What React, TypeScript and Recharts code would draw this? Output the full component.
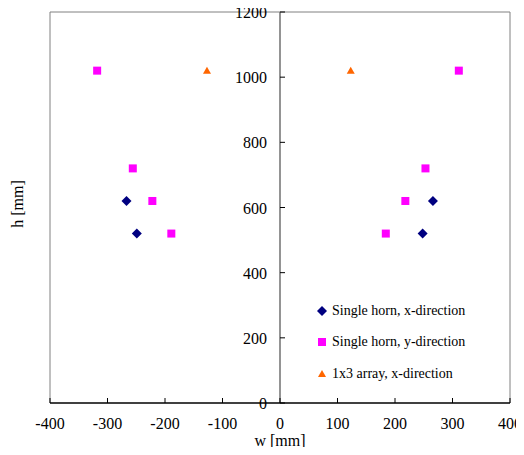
import { ScatterChart, Scatter, XAxis, YAxis, ReferenceLine } from 'recharts'

// horn positions (w, h in mm)
const hornX = [
  { w: -267, h: 620 },
  { w: -249, h: 520 },
  { w: 266, h: 620 },
  { w: 248, h: 520 },
]
const hornY = [
  { w: -318, h: 1020 },
  { w: -256, h: 720 },
  { w: -222, h: 620 },
  { w: -189, h: 520 },
  { w: 311, h: 1020 },
  { w: 253, h: 720 },
  { w: 218, h: 620 },
  { w: 184, h: 520 },
]
const array1x3 = [
  { w: -127, h: 1020 },
  { w: 123, h: 1020 },
]

const xTicks = [-400, -300, -200, -100, 0, 100, 200, 300, 400]
const yTicks = [0, 200, 400, 600, 800, 1000, 1200]

const W = 524
const H = 455
const M = { top: 12, right: 14, left: 49, bottom: 0 }
const FONT = 'Liberation Serif'
const MID = M.left + 1 + (W - M.left - 1 - M.right) / 2

const Diamond = ({ cx, cy, fill }: any) => (
  <polygon points={`${cx},${cy - 5} ${cx + 5},${cy} ${cx},${cy + 5} ${cx - 5},${cy}`} fill={fill} />
)
const Square = ({ cx, cy, fill }: any) => <rect x={cx - 4} y={cy - 4} width={8} height={8} fill={fill} />
const Triangle = ({ cx, cy, fill }: any) => (
  <polygon points={`${cx},${cy - 4} ${cx + 4},${cy + 3} ${cx - 4},${cy + 3}`} fill={fill} />
)

const SERIES = [
  { name: 'Single horn, x-direction', data: hornX, color: '#000080', Shape: Diamond },
  { name: 'Single horn, y-direction', data: hornY, color: '#FF00FF', Shape: Square },
  { name: '1x3 array, x-direction', data: array1x3, color: '#FF6600', Shape: Triangle },
]

const XTick = ({ x, y, payload }: any) => (
  <g>
    <line x1={x} x2={x} y1={y} y2={y - 5} stroke="#000" />
    <text x={x} y={y + 26} textAnchor="middle" fontFamily={FONT} fontSize={16} fill="#000">
      {payload.value}
    </text>
  </g>
)

const YTick = ({ y, payload }: any) => (
  <g>
    <line x1={MID} x2={MID + 5} y1={y} y2={y} stroke="#000" />
    <text x={MID - 13} y={y + 6} textAnchor="end" fontFamily={FONT} fontSize={16} fill="#000">
      {payload.value}
    </text>
  </g>
)

const XLabel = ({ viewBox }: any) => (
  <text
    x={viewBox.x + viewBox.width / 2}
    y={viewBox.y + 43}
    textAnchor="middle"
    fontFamily={FONT}
    fontSize={16}
    fill="#000"
  >
    w [mm]
  </text>
)

const LegendBox = () => (
  <div style={{ position: 'absolute', left: 316, top: 295, fontFamily: FONT, fontSize: 14, color: '#000' }}>
    {SERIES.map((s) => (
      <div key={s.name} style={{ display: 'flex', alignItems: 'center', height: 31.5, whiteSpace: 'nowrap' }}>
        <svg width={14} height={12} style={{ marginRight: 2 }}>
          <s.Shape cx={6} cy={6} fill={s.color} />
        </svg>
        <span>{s.name}</span>
      </div>
    ))}
  </div>
)

export default function App() {
  return (
    <div style={{ position: 'relative', width: W, height: H, margin: -8, background: '#fff', fontFamily: FONT }}>
      <ScatterChart width={W} height={H} margin={M}>
        <XAxis
          type="number"
          dataKey="w"
          domain={[-400, 400]}
          ticks={xTicks}
          height={52}
          tickLine={false}
          tickSize={0}
          tickMargin={0}
          axisLine={{ stroke: '#000', strokeWidth: 1.5 }}
          tick={<XTick />}
          interval={0}
          label={<XLabel />}
        />
        <YAxis
          type="number"
          dataKey="h"
          domain={[0, 1200]}
          ticks={yTicks}
          width={1}
          axisLine={false}
          tickLine={false}
          tick={<YTick />}
          interval={0}
        />
        <ReferenceLine x={-400} stroke="#808080" />
        <ReferenceLine x={400} stroke="#808080" />
        <ReferenceLine y={1200} stroke="#808080" />
        <ReferenceLine x={0} stroke="#707070" strokeWidth={1.5} />
        {SERIES.map((s) => (
          <Scatter
            key={s.name}
            name={s.name}
            data={s.data}
            fill={s.color}
            shape={<s.Shape />}
            isAnimationActive={false}
          />
        ))}
      </ScatterChart>
      <LegendBox />
      <div
        style={{
          position: 'absolute',
          left: 18,
          top: 204,
          transform: 'translate(-50%, -50%) rotate(-90deg)',
          fontFamily: FONT,
          fontSize: 16,
          whiteSpace: 'nowrap',
        }}
      >
        h [mm]
      </div>
    </div>
  )
}
